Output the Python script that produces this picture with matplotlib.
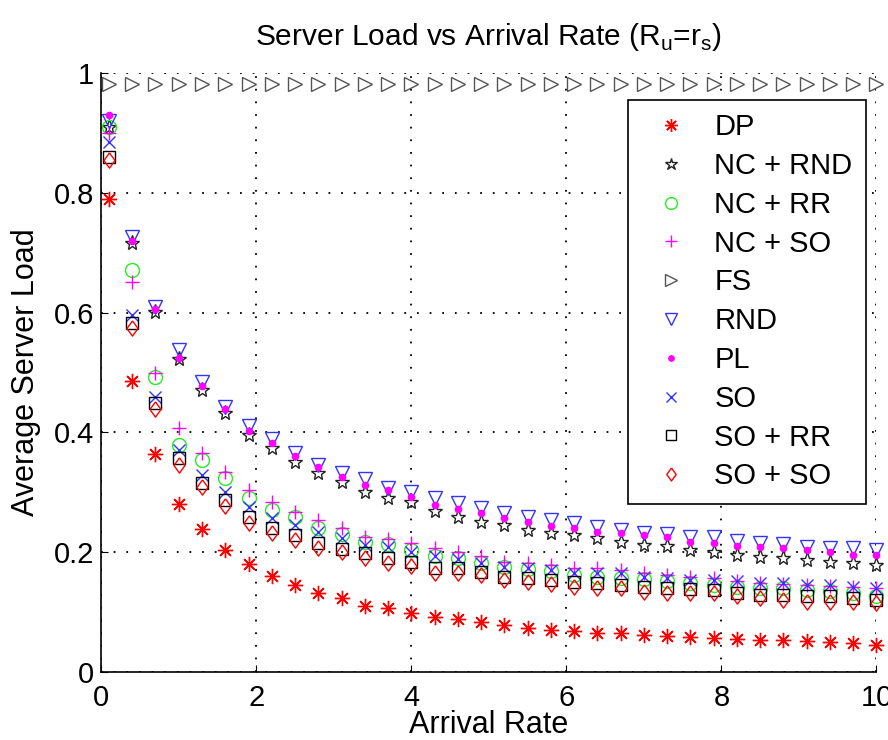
import matplotlib
matplotlib.use("Agg")
import matplotlib.pyplot as plt

plt.rcParams['font.family'] = ['Liberation Sans', 'DejaVu Sans']
plt.rcParams['mathtext.fontset'] = 'custom'
plt.rcParams['mathtext.rm'] = 'Liberation Sans'

# arrival rates
x = [0.1, 0.4, 0.7, 1.0, 1.3, 1.6, 1.9, 2.2, 2.5, 2.8, 3.1, 3.4, 3.7, 4.0, 4.3, 4.6, 4.9,
     5.2, 5.5, 5.8, 6.1, 6.4, 6.7, 7.0, 7.3, 7.6, 7.9, 8.2, 8.5, 8.8, 9.1, 9.4, 9.7, 10.0]

dp = [0.79, 0.486, 0.364, 0.28, 0.238, 0.204, 0.18, 0.161, 0.145, 0.132, 0.123, 0.11, 0.107,
      0.098, 0.091, 0.088, 0.084, 0.078, 0.073, 0.07, 0.069, 0.065, 0.065, 0.062, 0.06, 0.059,
      0.056, 0.055, 0.054, 0.053, 0.052, 0.05, 0.048, 0.045]
nc_rnd = [0.91, 0.716, 0.601, 0.522, 0.471, 0.432, 0.396, 0.374, 0.351, 0.333, 0.317, 0.301,
          0.29, 0.283, 0.269, 0.259, 0.251, 0.245, 0.237, 0.232, 0.229, 0.224, 0.217, 0.212,
          0.21, 0.204, 0.2, 0.195, 0.192, 0.19, 0.187, 0.184, 0.182, 0.179]
nc_rr = [0.91, 0.671, 0.492, 0.379, 0.354, 0.324, 0.29, 0.27, 0.259, 0.24, 0.23, 0.217, 0.214,
         0.203, 0.193, 0.19, 0.182, 0.176, 0.172, 0.168, 0.162, 0.159, 0.157, 0.155, 0.152,
         0.149, 0.145, 0.142, 0.14, 0.14, 0.137, 0.135, 0.132, 0.127]
nc_so = [0.90, 0.651, 0.499, 0.407, 0.365, 0.334, 0.304, 0.284, 0.267, 0.254, 0.24, 0.226,
         0.222, 0.215, 0.207, 0.2, 0.193, 0.184, 0.182, 0.179, 0.174, 0.173, 0.17, 0.165, 0.162,
         0.159, 0.157, 0.152, 0.148, 0.147, 0.145, 0.144, 0.142, 0.14]
fs = [0.982, 0.982, 0.982, 0.982, 0.982, 0.982, 0.982, 0.982, 0.982, 0.982, 0.982, 0.982,
      0.982, 0.982, 0.982, 0.982, 0.982, 0.982, 0.982, 0.982, 0.982, 0.982, 0.982, 0.982,
      0.982, 0.982, 0.982, 0.982, 0.982, 0.982, 0.982, 0.982, 0.982, 0.982]
rnd = [0.92, 0.726, 0.61, 0.537, 0.484, 0.442, 0.41, 0.389, 0.365, 0.346, 0.332, 0.322, 0.307,
       0.30, 0.29, 0.282, 0.274, 0.265, 0.259, 0.254, 0.248, 0.242, 0.237, 0.232, 0.23, 0.226,
       0.225, 0.219, 0.215, 0.214, 0.209, 0.207, 0.207, 0.204]
pl = [0.93, 0.72, 0.606, 0.524, 0.477, 0.439, 0.403, 0.382, 0.36, 0.342, 0.326, 0.312, 0.304,
      0.292, 0.279, 0.272, 0.266, 0.257, 0.25, 0.244, 0.24, 0.234, 0.232, 0.229, 0.225, 0.217,
      0.215, 0.21, 0.209, 0.207, 0.204, 0.2, 0.195, 0.195]
so = [0.885, 0.596, 0.459, 0.37, 0.329, 0.301, 0.276, 0.257, 0.245, 0.234, 0.223, 0.212, 0.209,
      0.2, 0.193, 0.189, 0.182, 0.176, 0.173, 0.17, 0.165, 0.165, 0.165, 0.159, 0.157, 0.154,
      0.154, 0.152, 0.149, 0.148, 0.146, 0.145, 0.142, 0.14]
so_rr = [0.86, 0.583, 0.449, 0.357, 0.315, 0.287, 0.259, 0.241, 0.229, 0.215, 0.206, 0.198,
         0.19, 0.184, 0.173, 0.173, 0.167, 0.159, 0.157, 0.154, 0.15, 0.148, 0.145, 0.142, 0.14,
         0.138, 0.137, 0.132, 0.129, 0.128, 0.126, 0.126, 0.123, 0.12]
so_so = [0.855, 0.574, 0.439, 0.346, 0.309, 0.277, 0.248, 0.232, 0.22, 0.207, 0.201, 0.19,
         0.182, 0.177, 0.165, 0.165, 0.162, 0.154, 0.151, 0.147, 0.142, 0.14, 0.14, 0.134, 0.132,
         0.132, 0.132, 0.126, 0.123, 0.12, 0.117, 0.117, 0.116, 0.115]

# matlab-like diamond, a bit taller than wide
diamond = [(0, 1), (0.72, 0), (0, -1), (-0.72, 0), (0, 1)]

fig = plt.figure(figsize=(8.88, 7.4), dpi=100)
ax = fig.add_axes([0.114, 0.092, 0.873, 0.809])

kw = dict(linestyle='none', clip_on=False, markeredgewidth=1.0)
ax.plot(x, dp, marker=(8, 2, 0), markersize=11, color='red', label='DP', **kw)
ax.plot(x, nc_rnd, marker='*', markersize=11, markerfacecolor='none',
        markeredgecolor='#222222', label='NC + RND', **kw)
ax.plot(x, nc_rr, marker='o', markersize=10, markerfacecolor='none',
        markeredgecolor='#22ee22', label='NC + RR', **kw)
ax.plot(x, nc_so, marker='+', markersize=10.5, color='magenta', label='NC + SO', **kw)
ax.plot(x, fs, marker='>', markersize=10, markerfacecolor='none',
        markeredgecolor='#555555', label='FS', **kw)
ax.plot(x, rnd, marker='v', markersize=10, markerfacecolor='none',
        markeredgecolor='#3333ff', label='RND', **kw)
ax.plot(x, pl, marker='o', markersize=4.5, color='magenta', label='PL', **kw)
ax.plot(x, so, marker='x', markersize=8, color='#3333ff', label='SO', **kw)
ax.plot(x, so_rr, marker='s', markersize=8, markerfacecolor='none',
        markeredgecolor='black', label='SO + RR', **kw)
ax.plot(x, so_so, marker=diamond, markersize=11, markerfacecolor='none',
        markeredgecolor='red', label='SO + SO', **kw)

ax.set_xlim(0, 10)
ax.set_ylim(0, 1)
ax.set_xticks([0, 2, 4, 6, 8, 10])
ax.set_yticks([0, 0.2, 0.4, 0.6, 0.8, 1])
ax.set_yticklabels(['0', '0.2', '0.4', '0.6', '0.8', '1'])
ax.tick_params(direction='in', length=5, labelsize=21)
ax.tick_params(axis='y', pad=5)
ax.tick_params(axis='x', pad=9)
ax.grid(True, linestyle=(0, (1, 6)), color='black', linewidth=1.3)
ax.spines['top'].set_visible(False)
ax.spines['right'].set_visible(False)
for s in ['left', 'bottom']:
    ax.spines[s].set_linewidth(1.2)

ax.set_xlabel('Arrival Rate', fontsize=22, labelpad=-2)
ax.set_ylabel('Average Server Load', fontsize=22, labelpad=9)
ax.set_title(r'Server Load vs Arrival Rate (R$_\mathregular{u}$=r$_\mathregular{s}$)',
             fontsize=21.5, pad=20)

leg = ax.legend(loc='upper right', bbox_to_anchor=(0.986, 0.955), borderaxespad=0,
                fontsize=21, numpoints=1, markerscale=0.85, handlelength=2.0,
                labelspacing=0.37, borderpad=0.45, handletextpad=0.5,
                fancybox=False, framealpha=1, edgecolor='black')
leg.get_frame().set_linewidth(1.2)

fig.savefig('out.png', dpi=100)
